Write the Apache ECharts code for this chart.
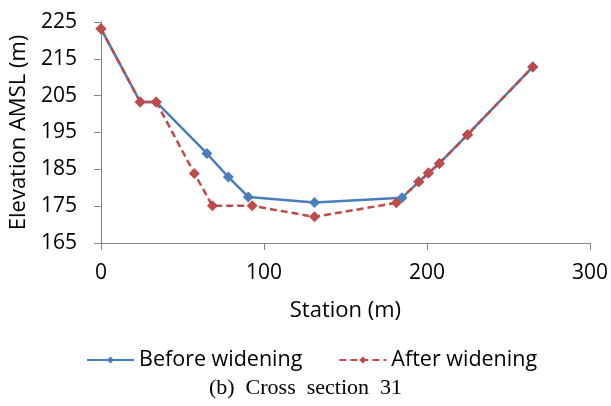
<!DOCTYPE html>
<html>
<head>
<meta charset="utf-8">
<script src="https://cdn.jsdelivr.net/npm/echarts@6/dist/echarts.min.js"></script>
<style>
  html, body { margin: 0; padding: 0; background: #fff; }
  #chart { width: 611px; height: 406px; }
</style>
</head>
<body>
<div id="chart"></div>
<script>
// Cross section 31 - station (m) vs elevation (m)
const beforeStation = [0, 24.1, 33.9, 65.0, 78.2, 90.4, 131.0, 184.7, 195.0, 200.9, 207.6, 224.9, 264.9];
const beforeElev    = [223.2, 203.3, 203.3, 189.3, 182.9, 177.5, 176.0, 177.3, 181.6, 184.0, 186.6, 194.4, 212.8];
const afterStation  = [0, 24.1, 33.9, 57.3, 68.4, 92.8, 131.0, 181.2, 195.0, 200.9, 207.6, 224.9, 264.9];
const afterElev     = [223.2, 203.3, 203.3, 183.9, 175.1, 175.1, 172.1, 175.9, 181.6, 184.0, 186.6, 194.4, 212.8];

const xTicks = [0, 100, 200, 300];
const yTicks = [165, 175, 185, 195, 205, 215, 225];

const zip = (xs, ys) => xs.map((x, i) => [x, ys[i]]);

const BLUE = '#4A7EBB';
const RED = '#BE4B48';
const AXIS = '#868686';
const FONT = '"Open Sans", sans-serif';

const chart = echarts.init(document.getElementById('chart'));

chart.setOption({
    animation: false,
    backgroundColor: '#fff',
    grid: { left: 98, right: 21, top: 22, bottom: 163 },
    xAxis: {
        type: 'value',
        min: xTicks[0],
        max: xTicks[xTicks.length - 1],
        interval: 100,
        name: 'Station (m)',
        nameLocation: 'middle',
        nameGap: 57,
        nameTextStyle: { fontFamily: FONT, fontSize: 22, color: '#000' },
        axisLine: { lineStyle: { color: AXIS, width: 1 } },
        axisTick: { show: true, inside: false, length: 7, lineStyle: { color: AXIS } },
        axisLabel: { fontFamily: FONT, fontSize: 21, color: '#000', margin: 20 },
        splitLine: { show: false }
    },
    yAxis: {
        type: 'value',
        min: yTicks[0],
        max: yTicks[yTicks.length - 1],
        interval: 10,
        name: 'Elevation AMSL (m)',
        nameLocation: 'middle',
        nameRotate: 90,
        nameGap: 68,
        nameTextStyle: { fontFamily: FONT, fontSize: 22, color: '#000' },
        axisLine: { show: true, lineStyle: { color: AXIS, width: 1 } },
        axisTick: { show: true, inside: false, length: 7, lineStyle: { color: AXIS } },
        axisLabel: { fontFamily: FONT, fontSize: 21, color: '#000', margin: 24 },
        splitLine: { show: false }
    },
    legend: {
        left: 81,
        top: 344,
        itemWidth: 47,
        itemHeight: 9,
        itemGap: 36,
        textStyle: { fontFamily: FONT, fontSize: 21.5, color: '#000' },
        data: ['Before widening', 'After widening']
    },
    graphic: [{
        type: 'text',
        left: 'center',
        top: 377,
        style: {
            text: '(b)  Cross  section  31',
            font: '22px "Liberation Serif", serif',
            fill: '#000'
        }
    }],
    series: [
        {
            name: 'Before widening',
            type: 'line',
            data: zip(beforeStation, beforeElev),
            symbol: 'diamond',
            symbolSize: 11,
            lineStyle: { color: BLUE, width: 2.5 },
            itemStyle: { color: BLUE }
        },
        {
            name: 'After widening',
            type: 'line',
            data: zip(afterStation, afterElev),
            symbol: 'diamond',
            symbolSize: 11,
            lineStyle: { color: RED, width: 2.5, type: [7, 4] },
            itemStyle: { color: RED }
        }
    ]
});
</script>
</body>
</html>
